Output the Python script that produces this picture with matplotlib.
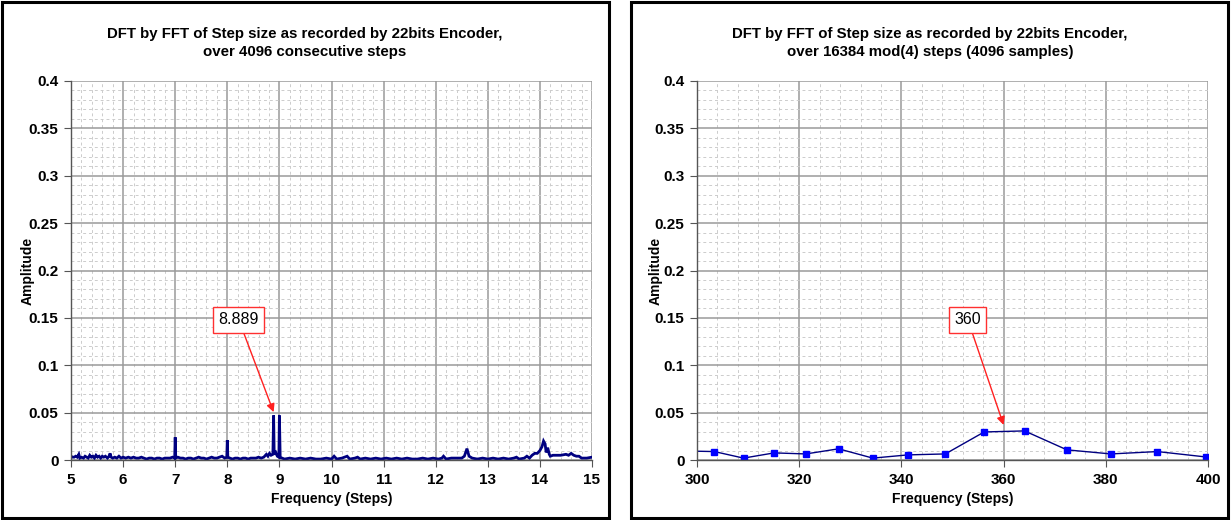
import matplotlib
matplotlib.use("Agg")
import matplotlib.pyplot as plt
from matplotlib.patches import Rectangle
from matplotlib.ticker import MultipleLocator

plt.rcParams['font.family'] = ['Liberation Sans', 'DejaVu Sans']

# ---------------- data ----------------
left_title = "DFT by FFT of Step size as recorded by 22bits Encoder,\nover 4096 consecutive steps"
right_title = "DFT by FFT of Step size as recorded by 22bits Encoder,\nover 16384 mod(4) steps (4096 samples)"
x_label = "Frequency (Steps)"
y_label = "Amplitude"

left_freq = [5.00, 5.03, 5.06, 5.09, 5.12, 5.15, 5.17, 5.20, 5.24, 5.27, 5.30, 5.33, 5.36, 5.39,
             5.42, 5.45, 5.48, 5.51, 5.54, 5.57, 5.60, 5.63, 5.66, 5.70, 5.73, 5.75, 5.77, 5.80,
             5.84, 5.88, 5.92, 5.96, 6.00, 6.05, 6.10, 6.15, 6.20, 6.25, 6.30, 6.35, 6.40, 6.45,
             6.50, 6.55, 6.60, 6.65, 6.70, 6.75, 6.80, 6.85, 6.90, 6.95, 6.99, 7.00, 7.01, 7.05,
             7.10, 7.15, 7.20, 7.25, 7.30, 7.35, 7.40, 7.45, 7.50, 7.55, 7.60, 7.65, 7.70, 7.75,
             7.80, 7.85, 7.90, 7.95, 7.99, 8.00, 8.01, 8.05, 8.10, 8.15, 8.20, 8.25, 8.30, 8.35,
             8.40, 8.45, 8.50, 8.55, 8.60, 8.65, 8.70, 8.75, 8.78, 8.81, 8.84, 8.875, 8.889, 8.90,
             8.93, 8.96, 8.99, 9.00, 9.015, 9.05, 9.10, 9.20, 9.30, 9.40, 9.50, 9.60, 9.70, 9.80,
             9.90, 10.00, 10.05, 10.10, 10.20, 10.30, 10.35, 10.45, 10.50, 10.55, 10.65, 10.75,
             10.85, 10.95, 11.05, 11.15, 11.25, 11.35, 11.45, 11.55, 11.65, 11.75, 11.85, 11.95,
             12.05, 12.12, 12.15, 12.20, 12.30, 12.40, 12.50, 12.55, 12.60, 12.64, 12.70, 12.80,
             12.90, 13.00, 13.10, 13.20, 13.30, 13.40, 13.50, 13.55, 13.60, 13.70, 13.75, 13.80,
             13.85, 13.90, 13.95, 14.00, 14.04, 14.07, 14.10, 14.12, 14.15, 14.18, 14.20, 14.25,
             14.30, 14.40, 14.50, 14.55, 14.60, 14.65, 14.70, 14.75, 14.80, 14.90, 15.00]
left_amp = [0.004, 0.003, 0.003, 0.004, 0.003, 0.006, 0.002, 0.003, 0.002, 0.004, 0.003, 0.002, 0.005, 0.003,
            0.004, 0.002, 0.005, 0.003, 0.004, 0.002, 0.004, 0.003, 0.004, 0.002, 0.004, 0.007, 0.003, 0.002,
            0.003, 0.002, 0.004, 0.002, 0.003, 0.002, 0.003, 0.002, 0.003, 0.002, 0.002, 0.003, 0.002, 0.001,
            0.002, 0.002, 0.001, 0.002, 0.002, 0.001, 0.002, 0.002, 0.002, 0.003, 0.002, 0.024, 0.002, 0.003,
            0.002, 0.002, 0.001, 0.002, 0.002, 0.001, 0.002, 0.003, 0.002, 0.002, 0.001, 0.002, 0.003, 0.002,
            0.002, 0.003, 0.004, 0.002, 0.003, 0.021, 0.003, 0.002, 0.001, 0.002, 0.002, 0.001, 0.002, 0.002,
            0.001, 0.002, 0.002, 0.002, 0.003, 0.002, 0.003, 0.006, 0.004, 0.007, 0.005, 0.006, 0.047, 0.006,
            0.008, 0.004, 0.003, 0.047, 0.003, 0.002, 0.001, 0.002, 0.001, 0.002, 0.001, 0.002, 0.001, 0.001,
            0.002, 0.001, 0.004, 0.001, 0.002, 0.004, 0.001, 0.002, 0.003, 0.001, 0.002, 0.001,
            0.002, 0.001, 0.002, 0.001, 0.002, 0.001, 0.002, 0.001, 0.001, 0.002, 0.001, 0.002,
            0.001, 0.002, 0.004, 0.001, 0.002, 0.002, 0.002, 0.004, 0.012, 0.004, 0.002, 0.001,
            0.002, 0.001, 0.002, 0.001, 0.002, 0.001, 0.002, 0.003, 0.001, 0.002, 0.004, 0.002,
            0.005, 0.007, 0.007, 0.010, 0.014, 0.020, 0.017, 0.008, 0.013, 0.006, 0.004, 0.005,
            0.005, 0.005, 0.006, 0.005, 0.007, 0.005, 0.004, 0.004, 0.002, 0.002, 0.003]

right_freq = [297.9, 303.4, 309.1, 315.1, 321.3, 327.7, 334.4, 341.3, 348.6, 356.2, 364.1, 372.4,
              381.0, 390.1, 399.6]
right_amp = [0.0095, 0.0089, 0.0020, 0.0075, 0.0064, 0.0118, 0.0020, 0.0054, 0.0064, 0.0296,
             0.0307, 0.0107, 0.0064, 0.0089, 0.0032]

left_xlim = (5, 15)
right_xlim = (300, 400)
ylim = (0, 0.4)
left_ann = ("8.889", 8.889, 0.0505)
right_ann = ("360", 360, 0.037)

# ---------------- figure ----------------
W, H = 1231, 520
fig = plt.figure(figsize=(W / 100, H / 100), dpi=100)
fig.patch.set_facecolor("white")

# panel borders
for (x0, x1) in [(2, 609), (631, 1228)]:
    fig.patches.append(Rectangle((x0 / W, 2 / H), (x1 - x0) / W, (H - 4) / H,
                                 transform=fig.transFigure, fill=False,
                                 edgecolor="black", linewidth=2.2, zorder=0))

def px_axes(x0, x1, y0, y1):
    return fig.add_axes([x0 / W, 1 - y1 / H, (x1 - x0) / W, (y1 - y0) / H])

def style(ax, xlim, xmaj, xmin, title, panel_cx, ylab_x):
    ax.set_xlim(*xlim)
    ax.set_ylim(*ylim)
    ax.xaxis.set_major_locator(MultipleLocator(xmaj))
    ax.xaxis.set_minor_locator(MultipleLocator(xmin))
    ax.yaxis.set_major_locator(MultipleLocator(0.05))
    ax.yaxis.set_minor_locator(MultipleLocator(0.01))
    ax.yaxis.set_major_formatter(matplotlib.ticker.FuncFormatter(
        lambda v, p: ("%g" % round(v, 3))))
    ax.xaxis.set_major_formatter(matplotlib.ticker.FuncFormatter(
        lambda v, p: ("%g" % round(v, 3))))
    ax.grid(which="minor", color="#cccccc", linestyle=(0, (3, 3)), linewidth=0.7)
    ax.grid(which="major", color="#9a9a9a", linestyle="-", linewidth=1.1)
    ax.set_axisbelow(True)
    for s in ["top", "right"]:
        ax.spines[s].set_visible(False)
    for s in ["left", "bottom"]:
        ax.spines[s].set_color("#555555")
        ax.spines[s].set_linewidth(1.0)
    ax.tick_params(which="major", direction="out", length=5, color="#555555",
                   labelsize=11, pad=4)
    ax.tick_params(which="minor", length=0)
    for lab in ax.get_xticklabels() + ax.get_yticklabels():
        lab.set_fontweight("bold")
    ax.set_xlabel(x_label, fontsize=10, fontweight="bold", labelpad=4)
    ax.set_ylabel(y_label, fontsize=10, fontweight="bold")
    ax.yaxis.set_label_coords(ylab_x, 0.5)
    fig.text(panel_cx / W, 1 - 43 / H, title, ha="center", va="center",
             fontsize=10.8, fontweight="bold", linespacing=1.4)

def annotate(ax, text, tx, ty, bx, by):
    ax.annotate(text, xy=(tx, ty), xytext=(bx, by), fontsize=11.5,
                ha="center", va="center",
                bbox=dict(boxstyle="square,pad=0.33", fc="white", ec="#ff3030", lw=1.0),
                arrowprops=dict(arrowstyle="-|>", color="#ff2020", lw=1.0,
                                mutation_scale=12, shrinkA=0, shrinkB=0),
                zorder=10)

# left panel
axl = px_axes(71, 592, 81, 460)
axl.plot(left_freq, left_amp, color="#000080", linewidth=2.0, solid_joinstyle="miter")
style(axl, left_xlim, 1, 0.2, left_title, 305, (35 - 71) / 521)
annotate(axl, left_ann[0], left_ann[1], left_ann[2], 8.22, 0.148)

# right panel
axr = px_axes(697, 1208, 81, 460)
axr.plot(right_freq, right_amp, color="#000080", linewidth=1.0,
         marker="s", markersize=4, markerfacecolor="#0000ff", markeredgecolor="#0000ff")
style(axr, right_xlim, 20, 4, right_title, 930, (663 - 697) / 511)
annotate(axr, right_ann[0], right_ann[1], right_ann[2], 353.0, 0.148)

fig.savefig("out.png", dpi=100, facecolor="white")
